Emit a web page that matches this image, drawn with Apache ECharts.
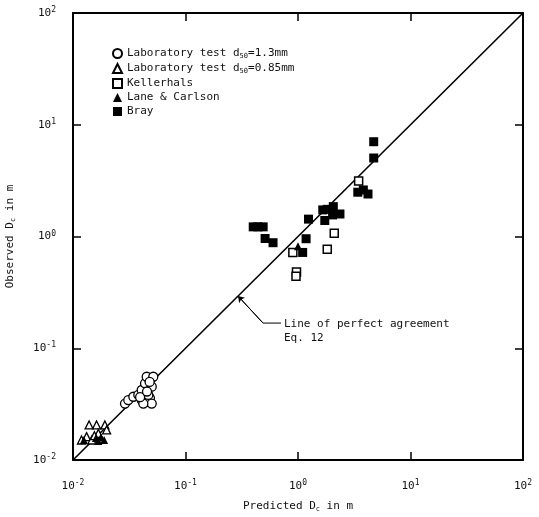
<!DOCTYPE html>
<html>
<head>
<meta charset="utf-8">
<script src="https://cdn.jsdelivr.net/npm/echarts@6/dist/echarts.min.js"></script>
<style>html,body{margin:0;padding:0;background:#fff}#c{width:539px;height:517px}</style>
</head>
<body>
<div id="c"></div>
<script>
var labCoarse = [[0.029,0.032],[0.031,0.0344],[0.0344,0.0368],[0.0381,0.0382],[0.0408,0.0344],[0.0452,0.0332],[0.0483,0.0357],[0.0408,0.0423],[0.0437,0.0486],[0.0452,0.0556],[0.0517,0.0556],[0.0501,0.0453],[0.0467,0.0382],[0.0501,0.032],[0.0422,0.032],[0.0395,0.0365],[0.0455,0.041],[0.048,0.05]];
var labFine = [[0.0119,0.0151],[0.0132,0.0162],[0.0139,0.0206],[0.0162,0.0206],[0.0192,0.0206],[0.0168,0.0173],[0.0147,0.0151],[0.0199,0.0186],[0.0155,0.0165]];
var kellerhals = [[3.46,3.14],[2.10,1.07],[1.82,0.77],[0.90,0.72],[0.97,0.48],[0.96,0.44]];
var laneCarlson = [[1.0,0.82],[0.0125,0.0151],[0.016,0.0157],[0.0177,0.016],[0.0189,0.0151],[0.0168,0.0148]];
var bray = [[4.71,7.05],[4.71,5.04],[3.40,2.49],[3.81,2.61],[4.19,2.40],[1.66,1.73],[1.82,1.75],[2.06,1.85],[2.03,1.56],[2.36,1.59],[1.73,1.39],[1.24,1.43],[1.18,0.955],[0.40,1.22],[0.44,1.22],[0.49,1.22],[0.51,0.96],[0.60,0.88],[1.10,0.72]];
var perfectLine = [[0.01,0.01],[100,100]];
var leader = [[0.293,0.293],[0.489,0.168],[0.706,0.168]];
var tickExp = {0.01:'-2',0.1:'-1',1:'0',10:'1',100:'2'};

var FONT = 'DejaVu Sans Mono';
var chart = echarts.init(document.getElementById('c'));
function tickFmt(v){ var k = tickExp[+v.toPrecision(3)]; return k===undefined ? '' : '10{sup|' + k + '}'; }
var richTick = {sup:{fontSize:8,verticalAlign:'top',padding:[0,0,6,0],fontFamily:FONT,color:'#111'}};
var axisCommon = {
  type:'log', logBase:10, min:0.01, max:100,
  axisLine:{show:true,lineStyle:{color:'#000',width:2}},
  axisTick:{show:true,inside:true,length:8,lineStyle:{color:'#000',width:1.5}},
  minorTick:{show:false},
  splitLine:{show:false}
};
var subRich = {
  a:{fontFamily:FONT,fontSize:11,color:'#111'},
  s:{fontFamily:FONT,fontSize:7,color:'#111',verticalAlign:'bottom',padding:[6,0,0,0]}
};
chart.setOption({
  animation:false,
  backgroundColor:'#fff',
  grid:{left:73,right:16,top:13,bottom:57,containLabel:false,outerBoundsMode:'none'},
  legend:{
    orient:'vertical', left:107, top:43, itemGap:3, itemWidth:9, itemHeight:9,
    data:['lab13','lab085','Kellerhals','Lane & Carlson','Bray'],
    formatter:function(n){
      if(n==='lab13') return '{a|Laboratory test d}{s|50}{a|=1.3mm}';
      if(n==='lab085') return '{a|Laboratory test d}{s|50}{a|=0.85mm}';
      return '{a|'+n+'}';
    },
    textStyle:{fontFamily:FONT,fontSize:11,color:'#111',rich:subRich}
  },
  xAxis:[
    Object.assign({}, axisCommon, {
      position:'bottom',
      axisLabel:{formatter:tickFmt,margin:19,fontFamily:FONT,fontSize:11,color:'#111',rich:richTick,showMinLabel:true,showMaxLabel:true},
      name:'{a|Predicted D}{s|c}{a| in m}', nameLocation:'middle', nameGap:40,
      nameTextStyle:{rich:subRich}
    }),
    Object.assign({}, axisCommon, {position:'top', axisLabel:{show:false}})
  ],
  yAxis:[
    Object.assign({}, axisCommon, {
      position:'left',
      axisLabel:{formatter:tickFmt,margin:17,fontFamily:FONT,fontSize:11,color:'#111',rich:richTick,showMinLabel:true,showMaxLabel:true},
      name:'{a|Observed D}{s|c}{a| in m}', nameLocation:'middle', nameGap:56, nameRotate:90,
      nameTextStyle:{rich:subRich}
    }),
    Object.assign({}, axisCommon, {position:'right', axisLabel:{show:false}})
  ],
  series:[
    {name:'perfect',type:'line',data:perfectLine,symbol:'none',lineStyle:{color:'#000',width:1.6},silent:true,z:1},
    {name:'leader',type:'line',data:leader,symbol:'none',lineStyle:{color:'#000',width:1},silent:true,z:1,
      endLabel:{show:true,formatter:'Line of perfect agreement\nEq. 12',fontFamily:FONT,fontSize:11,color:'#111',distance:3,align:'left',verticalAlign:'top',padding:[-6,0,0,0],lineHeight:14},
      markLine:{silent:true,symbol:['arrow','none'],symbolSize:6,label:{show:false},lineStyle:{color:'#000',width:1,type:'solid'},
        data:[[{coord:leader[0]},{coord:leader[1]}]]}},
    {name:'lab13',type:'scatter',data:labCoarse,symbol:'circle',symbolSize:9,itemStyle:{color:'#fff',borderColor:'#000',borderWidth:1.3,opacity:1},z:3},
    {name:'lab085',type:'scatter',data:labFine,symbol:'triangle',symbolSize:8,itemStyle:{color:'#fff',borderColor:'#000',borderWidth:1.3,opacity:1},z:3},
    {name:'Kellerhals',type:'scatter',data:kellerhals,symbol:'rect',symbolSize:8,itemStyle:{color:'#fff',borderColor:'#000',borderWidth:1.5,opacity:1},z:3},
    {name:'Lane & Carlson',type:'scatter',data:laneCarlson,symbol:'triangle',symbolSize:8,itemStyle:{color:'#000',opacity:1},z:4},
    {name:'Bray',type:'scatter',data:bray,symbol:'rect',symbolSize:9,itemStyle:{color:'#000',opacity:1},z:4}
  ]
});
</script>
</body>
</html>
